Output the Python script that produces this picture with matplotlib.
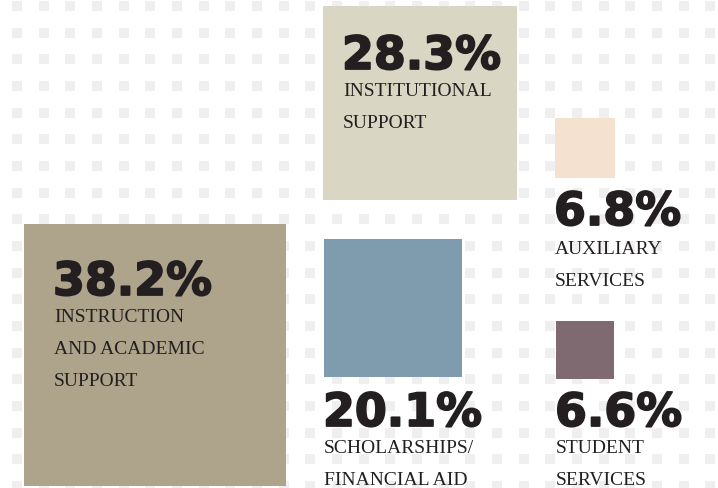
import numpy as np
import matplotlib
matplotlib.use("Agg")
import matplotlib.pyplot as plt
from matplotlib.patches import Rectangle
import matplotlib.patheffects as pe

# ---- data ----
categories = ["INSTRUCTION\nAND ACADEMIC\nSUPPORT", "INSTITUTIONAL\nSUPPORT",
              "SCHOLARSHIPS/\nFINANCIAL AID", "AUXILIARY\nSERVICES", "STUDENT\nSERVICES"]
values = [38.2, 28.3, 20.1, 6.8, 6.6]
colors = ["#aea38b", "#d9d6c3", "#7f9cae", "#f5e1d0", "#7e6a70"]

# ---- layout (pixel space, y down) ----
square_xy = [(24, 225), (323, 7), (324, 240), (555, 119), (556, 322)]
px_per_pct = [6.86, 6.86, 6.86, 8.8, 8.8]
number_xy = [(53, 296), (342, 70), (323, 427), (554, 226), (555, 427)]
label_gap = [26, 26, 26, 28, 26]
line_step = 32

W, H = 718, 489
fig = plt.figure(figsize=(W / 100, H / 100), dpi=100)
ax = fig.add_axes([0, 0, 1, 1])
ax.set_xlim(0, W)
ax.set_ylim(H, 0)
ax.axis("off")

# dot grid background
gx = 17 + 26.67 * np.arange(27)
gy = 7 + 26.67 * np.arange(19)
gx = gx[gx < W]
gy = gy[gy < H]
GX, GY = np.meshgrid(gx, gy)
ax.scatter(GX.ravel(), GY.ravel(), marker="s", s=42, color="#efefef",
           linewidths=0, zorder=0)

txt_color = "#231f20"
heavy = [pe.withStroke(linewidth=1.3, foreground=txt_color)]
for cat, val, col, (sx, sy), k, (nx, ny), gap in zip(
        categories, values, colors, square_xy, px_per_pct, number_xy, label_gap):
    side = val * k
    ax.add_patch(Rectangle((sx, sy), side, side, facecolor=col,
                           edgecolor="none", zorder=1))
    ax.text(nx, ny, f"{val:.1f}%", fontsize=33, fontweight="bold",
            family="DejaVu Sans", color=txt_color, va="baseline", ha="left",
            zorder=3, path_effects=heavy)
    for i, line in enumerate(cat.split("\n")):
        ax.text(nx + 1, ny + gap + i * line_step, line, fontsize=14,
                family="Liberation Serif", color=txt_color,
                va="baseline", ha="left", zorder=3)

fig.savefig("out.png", dpi=100)
